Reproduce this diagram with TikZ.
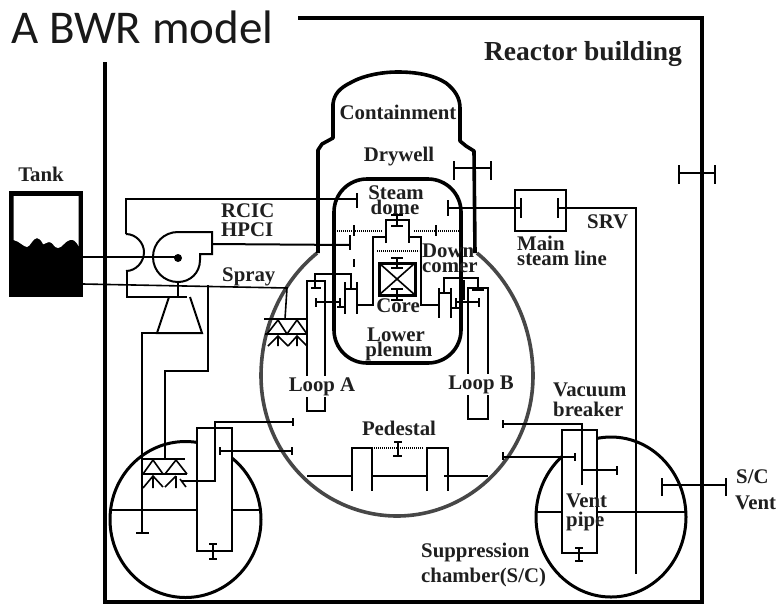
\documentclass[tikz,border=0pt]{standalone}
\usepackage{fontspec}
\setmainfont{Liberation Serif}
\newfontfamily\titlefont{Carlito}
\tikzset{
  x=1pt,y=-1pt,
  wall/.style={line width=4.6pt,black},
  thinline/.style={line width=2pt,black},
  hair/.style={line width=1.6pt,black},
  med/.style={line width=2.4pt,black},
  vessel/.style={line width=3.6pt,black},
  grayv/.style={line width=3.6pt,color=black!72},
  dots/.style={line width=2pt,black,dash pattern=on 1.2pt off 0.8pt},
  lbl/.style={inner sep=0pt,font=\bfseries\fontsize{20.8}{20.8}\selectfont,text=black!88},
}
\begin{document}
\begin{tikzpicture}
\useasboundingbox (0,0) rectangle (778,606);
\fill[white] (0,0) rectangle (778,606);

% Reactor building
\draw[wall,line join=miter] (105,62) -- (105,602) -- (702,602) -- (702,18) -- (298,18);
\node[anchor=base west,inner sep=0pt,font=\titlefont\fontsize{47}{47}\selectfont,text=black!90] (title) at (11,43) {A BWR model};

% Main vessel outline
\draw[grayv] plot[domain=126:180,samples=50] ({397+136*cos(\x)},{376-152*sin(\x)});
\draw[grayv] plot[domain=0:54,samples=50] ({397+136*cos(\x)},{376-152*sin(\x)});
\draw[grayv] plot[domain=180:360,samples=90] ({397+136*cos(\x)},{376+140*sin(-\x)});

% Containment
\draw[vessel,line join=round] (318,253) -- (318,150) -- (322,144) -- (333,138) -- (333,104)
  .. controls (334,94) and (340,88) .. (350,83)
  .. controls (362,76) and (380,72) .. (398,72)
  .. controls (416,72) and (434,75) .. (446,83)
  .. controls (455,90) and (460,98) .. (460,108)
  -- (460,141) -- (466,146) -- (474,151) -- (475,253);

% Reactor vessel
\draw[vessel,rounded corners=33pt] (334,179) rectangle (461,363);

% Tank
\fill[black] (9,191) rectangle (83,297);
\fill[white] (13.5,196) -- (78.5,196) -- (78.5,246)
  .. controls (76,241) and (73,239) .. (70,240)
  .. controls (65,241) and (62,248) .. (58,248)
  .. controls (54,248) and (53,242) .. (49,242)
  .. controls (46,242) and (44,245) .. (43,244)
  .. controls (41,240) and (39,238) .. (37,238)
  .. controls (33,238) and (30,247) .. (27,247)
  .. controls (24,247) and (19,241) .. (13.5,240) -- cycle;
\node[lbl,anchor=base] (tank) at (41,181) {Tank};

% Pump and turbine
\draw[thinline] (83,257) -- (178,257);
\fill (178,258) circle[radius=4];
\draw[thinline,line join=miter] (178,232) -- (212,232) -- (212,254) -- (200,254) -- (200,260)
  .. controls (200,273) and (190,282) .. (178,282)
  .. controls (164,282) and (153,271) .. (153,257)
  .. controls (153,243) and (164,232) .. (178,232);
\draw[thinline] (178,282) -- (178,297);
\draw[thinline] (126,234) -- (126,199) -- (357,199);
\draw[thinline] (357,193) -- (357,208);
\draw[thinline] (126,234) .. controls (136,234) and (144,243) .. (144,252)
  .. controls (144,262) and (136,271) .. (126,271);
\draw[thinline,line join=miter] (127,271) -- (127,297) -- (187,297);
\draw[thinline,line join=miter] (169,297) -- (157,333) -- (202,333) -- (190,297);
\draw[thinline,line join=miter] (157,333) -- (142,333) -- (142,533);
\draw[thinline] (136,533) -- (149,533);
\draw[thinline,line join=miter] (208,285) -- (208,371) -- (165,371) -- (165,459);
\draw[thinline] (212,244) -- (350,245);
\draw[thinline] (350,235) -- (350,250);
\draw[hair] (83,284) -- (287,288) -- (285,319);

% Upper spray
\draw[thinline] (264,319) -- (306,319);
\draw[thinline] (265,334) -- (307,334);
\draw[hair] (267,334) -- (278,320) -- (287,334) -- (297,320) -- (307,334);
\draw[hair] (268,346) -- (278,336) -- (288,346) (278,336) -- (278,346);
\draw[hair] (288,346) -- (297,336) -- (307,346) (297,336) -- (297,346);

% Lower spray
\draw[thinline] (142,459) -- (185,459);
\draw[thinline] (142,474) -- (187,474);
\draw[hair] (143,474) -- (153,460) -- (163,474) (165,474) -- (176,460) -- (187,474);
\draw[hair] (143,488) -- (153,476) -- (163,487) (153,476) -- (153,488);
\draw[hair] (165,487) -- (176,476) (176,476) -- (176,488) (180,479) -- (186,487);

% Suppression chambers
\draw[line width=3pt] (185.5,519.5) ellipse[x radius=75.5,y radius=78];
\draw[line width=3pt] (611,517) ellipse[x radius=75,y radius=80];
\draw[thinline] (111,510) -- (260,510);
\draw[thinline] (537,512) -- (685,512);

% Vent pipes
\draw[thinline,fill=white] (197,428) rectangle (232,551);
\draw[thinline,fill=white] (562,430) rectangle (597,553);
\draw[thinline] (582,485) -- (582,424) -- (503,424);
\draw[thinline] (503,420) -- (503,428);
\draw[thinline] (582,470) -- (617,470);
\draw[thinline] (617,466) -- (617,475);
\draw[thinline] (503,457) -- (575,457);
\draw[thinline] (503,452) -- (503,460) (575,453) -- (575,461);
\draw[thinline] (579,548) -- (579,561) (575,548) -- (583,548) (575,561) -- (583,561);
\draw[thinline] (182,481) -- (215,481) -- (215,422) -- (294,422);
\draw[thinline] (293,418) -- (293,426);
\draw[thinline] (220,451) -- (292,451);
\draw[thinline] (220,447) -- (220,455) (292,447) -- (292,455);
\draw[thinline] (213,544) -- (213,559) (209,544) -- (217,544) (209,559) -- (217,559);

% SRV / S/C vent lines
\draw[hair] (558,208) -- (636,208) -- (636,574);
\draw[thinline] (662,485) -- (726,485);
\draw[thinline] (662,478) -- (662,496) (726,478) -- (726,496);

% Main steam line
\draw[thinline] (515,190) rectangle (566,231);
\draw[thinline] (448,208) -- (521,208);
\draw[thinline] (448,200) -- (448,216) (521,198) -- (521,218) (558,198) -- (558,218);
\draw[thinline] (454,168) -- (491,168);
\draw[thinline] (454,161) -- (454,180) (491,161) -- (491,180);
\draw[thinline] (679,173) -- (716,173);
\draw[thinline] (679,165) -- (679,184) (715,165) -- (715,184);

% Internals
\draw[dots] (337,231) -- (382,231);
\draw[dots] (414,231) -- (459,231);
\draw[thinline] (354,225) -- (354,236) (436,225) -- (436,236);
\draw[thinline,line join=miter] (386,243) -- (386,220) -- (409,220) -- (409,243);
\draw[thinline,line join=miter] (357,305) -- (373,305) -- (373,237) -- (386,237);
\draw[thinline,line join=miter] (409,237) -- (421,237) -- (421,305) -- (439,305);
\draw[thinline] (397,215) -- (397,226) (391,215) -- (403,215) (391,226) -- (403,226);
\draw[dots] (377,251) -- (419,251);
\draw[line width=3pt] (379,263) rectangle (415,295);
\draw[hair] (379,263) -- (415,295) (415,263) -- (379,295);
\draw[thinline] (397,258) -- (397,268) (391,258) -- (403,258) (391,268) -- (403,268);
\draw[thinline] (397,289) -- (397,300) (391,289) -- (403,289) (391,300) -- (403,300);
\draw[med] (354,259) -- (354,267);

% Left loop
\draw[thinline,line join=miter] (307,411) -- (307,281) -- (325,281) -- (325,411) -- cycle;
\draw[thinline,line join=miter] (315,288) -- (315,274) -- (351,274) -- (351,289);
\draw[thinline] (311,288) -- (321,288) (346,289) -- (356,289);
\draw[thinline] (345,282) -- (345,314) (357,282) -- (357,314);
\draw[thinline] (316,302) -- (339,302) (316,298) -- (316,307) (340,298) -- (340,307) (337,307) -- (345,307);

% Right loop
\draw[thinline,line join=miter] (468,419) -- (468,288) -- (488,288) -- (488,419) -- cycle;
\draw[thinline,line join=miter] (444,293) -- (444,278) -- (478,278) -- (478,290);
\draw[thinline] (472,290) -- (484,290);
\draw[thinline] (439,288) -- (439,318) (451,288) -- (451,318) (439,293) -- (451,293);
\draw[thinline] (456,302) -- (479,302) (479,298) -- (479,307) (456,298) -- (456,307) (451,308) -- (461,308);
\draw[line width=5pt] (462,280) -- (462,300);

% Pedestal
\draw[thinline,line join=miter] (352,491) -- (352,448) -- (372,448) -- (372,491);
\draw[thinline,line join=miter] (427,491) -- (427,448) -- (448,448) -- (448,491);
\draw[dots] (372,448) -- (423,448);
\draw[thinline] (398,442) -- (398,456) (394,442) -- (402,442) (393,456) -- (402,456);
\draw[hair] (307,476) -- (352,476) (372,476) -- (427,476) (444,476) -- (488,476);

% Labels
\node[lbl,anchor=base,font=\bfseries\fontsize{27.5}{27.5}\selectfont] (rb) at (583,60) {Reactor building};
\node[lbl,anchor=base] (cont) at (398,119) {Containment};
\node[lbl,anchor=base] (dw) at (399,161) {Drywell};
\node[lbl,anchor=base] (sd1) at (396,199) {Steam};
\node[lbl,anchor=base] (sd2) at (395,214) {dome};
\node[lbl,anchor=base west] (rcic) at (221,217) {RCIC};
\node[lbl,anchor=base west] (hpci) at (221,236) {HPCI};
\node[lbl,anchor=base west] (spray) at (222,281) {Spray};
\node[lbl,anchor=base west] (main) at (517,250) {Main};
\node[lbl,anchor=base west] (sl) at (517,265) {steam line};
\node[lbl,anchor=base west] (srv) at (587,228) {SRV};
\node[lbl,anchor=base west] (dn) at (422,257) {Down};
\node[lbl,anchor=base west] (cm) at (422,272) {comer};
\node[lbl,anchor=base] (core) at (398,312) {Core};
\node[lbl,anchor=base] (lo) at (396,341) {Lower};
\node[lbl,anchor=base] (pl) at (399,356) {plenum};
\node[lbl,anchor=base,fill=white,inner sep=1.5pt] (la) at (322,391) {Loop A};
\node[lbl,anchor=base,fill=white,inner sep=1.5pt] (lb) at (481,389) {Loop B};
\node[lbl,anchor=base] (ped) at (399,435) {Pedestal};
\node[lbl,anchor=base west] (vb1) at (553,396) {Vacuum};
\node[lbl,anchor=base west] (vb2) at (553,416) {breaker};
\node[lbl,anchor=base west] (vp1) at (566,507) {Vent};
\node[lbl,anchor=base west] (vp2) at (566,526) {pipe};
\node[lbl,anchor=base west] (sc1) at (421,557) {Suppression};
\node[lbl,anchor=base west] (sc2) at (421,582) {chamber(S/C)};
\node[lbl,anchor=base west] (sv1) at (736,483) {S/C};
\node[lbl,anchor=base west] (sv2) at (735,509) {Vent};
\end{tikzpicture}
\end{document}
